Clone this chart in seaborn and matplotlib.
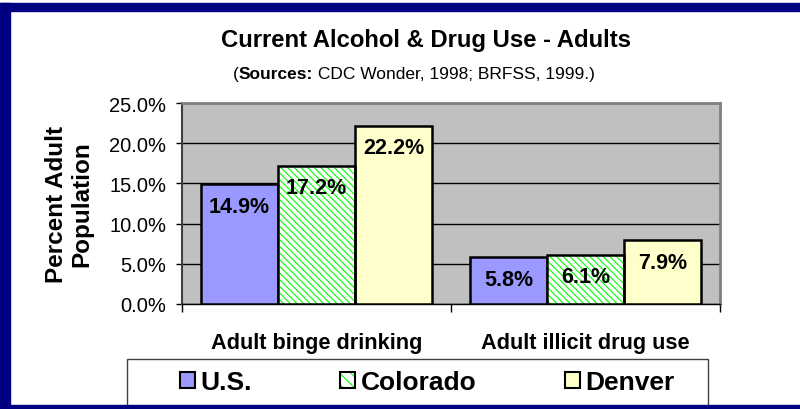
import seaborn as sns
import pandas as pd
import matplotlib.pyplot as plt
from matplotlib.patches import Patch, Rectangle

# values
measures = ['Adult binge drinking', 'Adult illicit drug use']
regions = ['U.S.', 'Colorado', 'Denver']
us_vals = [14.9, 5.8]
colorado_vals = [17.2, 6.1]
denver_vals = [22.2, 7.9]
y_ticks = [0, 5, 10, 15, 20, 25]

colors = ['#9999FF', '#FFFFFF', '#FFFFCC']
hatch_green = '#00FF00'
hatch = '\\' * 5
navy = '#000080'
font = ['Liberation Sans', 'DejaVu Sans']

sns.set_style('white')
plt.rcParams['font.family'] = font
plt.rcParams['hatch.linewidth'] = 0.8
for key in ['text.color', 'axes.labelcolor', 'xtick.color', 'ytick.color']:
    plt.rcParams[key] = 'black'

df = pd.DataFrame({
    'measure': measures * 3,
    'region': [r for r in regions for _ in measures],
    'value': us_vals + colorado_vals + denver_vals,
})

fig = plt.figure(figsize=(8, 4.1), dpi=100)
ax = fig.add_axes([182 / 800, 1 - 305 / 410, 538 / 800, 201 / 410])
ax.set_facecolor('#C0C0C0')

sns.barplot(data=df, x='measure', y='value', hue='region', palette=colors,
            saturation=1, width=0.86, gap=0, edgecolor='black', linewidth=1.8,
            legend=False, ax=ax, zorder=3)

# Colorado bars: green hatch on white, black outline on top
for bar in ax.containers[1]:
    bar.set_edgecolor(hatch_green)
    bar.set_linewidth(0)
    bar.set_hatch(hatch)
    ax.add_patch(Rectangle(bar.get_xy(), bar.get_width(), bar.get_height(),
                           fill=False, edgecolor='black', linewidth=1.8, zorder=4))

# value labels inside the bars near the top
for cont in ax.containers:
    for bar in cont:
        h = bar.get_height()
        ax.annotate(f'{h:.1f}%', (bar.get_x() + bar.get_width() / 2, h),
                    xytext=(0, -22), textcoords='offset pixels',
                    ha='center', va='center', fontsize=15.5, fontweight='bold',
                    zorder=5)

ax.set_ylim(0, 25)
ax.set_xlim(-0.5, 1.5)
ax.set_yticks(y_ticks)
ax.set_yticklabels([f'{t:.1f}%' for t in y_ticks], fontsize=14.5)
ax.grid(axis='y', color='black', linewidth=1)
ax.set_axisbelow(True)
ax.tick_params(axis='y', direction='out', length=4.3, width=1, color='black', pad=7, left=True)
ax.tick_params(axis='x', length=0, pad=20, labelsize=15.7)
for lab in ax.get_xticklabels():
    lab.set_fontweight('bold')
ax.set_xticks([-0.5, 0.5, 1.5], minor=True)
ax.tick_params(axis='x', which='minor', direction='out', length=6, width=1, color='black', bottom=True)

ax.set_xlabel('')
ax.set_ylabel('Percent Adult\nPopulation', fontsize=17.5, fontweight='bold', linespacing=1.1)
ax.yaxis.set_label_coords(-0.165, 0.5)

for side in ['top', 'right']:
    ax.spines[side].set_color('#808080')
    ax.spines[side].set_linewidth(2)
ax.spines['left'].set_color('#404040')
ax.spines['left'].set_linewidth(1.5)
ax.spines['bottom'].set_color('black')
ax.spines['bottom'].set_linewidth(1)

# titles
fig.text(426 / 800, 1 - 40 / 410, 'Current Alcohol & Drug Use - Adults',
         ha='center', va='center', fontsize=17.2, fontweight='bold')
t1 = fig.text(233 / 800, 1 - 75 / 410, '(', ha='left', va='center', fontsize=12.5)
t2 = ax.annotate('Sources:', xy=(1, 0), xycoords=t1, va='bottom', ha='left',
                 fontsize=12.5, fontweight='bold', annotation_clip=False)
ax.annotate(' CDC Wonder, 1998; BRFSS, 1999.)', xy=(1, 0), xycoords=t2,
            va='bottom', ha='left', fontsize=12.5, annotation_clip=False)

# legend
handles = [
    Patch(facecolor=colors[0], edgecolor='black', linewidth=1.5),
    (Patch(facecolor='white', edgecolor=hatch_green, linewidth=0, hatch='\\\\\\'),
     Patch(fill=False, edgecolor='black', linewidth=1.5)),
    Patch(facecolor=colors[2], edgecolor='black', linewidth=1.5),
]
ax.legend(handles, regions, ncol=3, loc='center',
          bbox_to_anchor=(427 / 800, 1 - 383 / 410),
          bbox_transform=fig.transFigure, frameon=False,
          prop={'size': 19, 'weight': 'bold'},
          handlelength=0.57, handleheight=0.57, handletextpad=0.2,
          columnspacing=3.35, borderpad=0, borderaxespad=0)
fig.patches.append(Rectangle((127 / 800, 0), 581 / 800, 1 - 360 / 410,
                             transform=fig.transFigure, fill=False,
                             edgecolor='#404040', linewidth=1, zorder=1))

# navy frame around the slide
fig.patches.append(Rectangle((0, 1 - 12 / 410), 1, 8 / 410, transform=fig.transFigure,
                             color=navy, zorder=10))
fig.patches.append(Rectangle((0, 0), 10 / 800, 1 - 4 / 410, transform=fig.transFigure,
                             color=navy, zorder=10))
fig.patches.append(Rectangle((0, 0), 1, 4 / 410, transform=fig.transFigure,
                             color=navy, zorder=10))

fig.savefig('out.png', dpi=100)
